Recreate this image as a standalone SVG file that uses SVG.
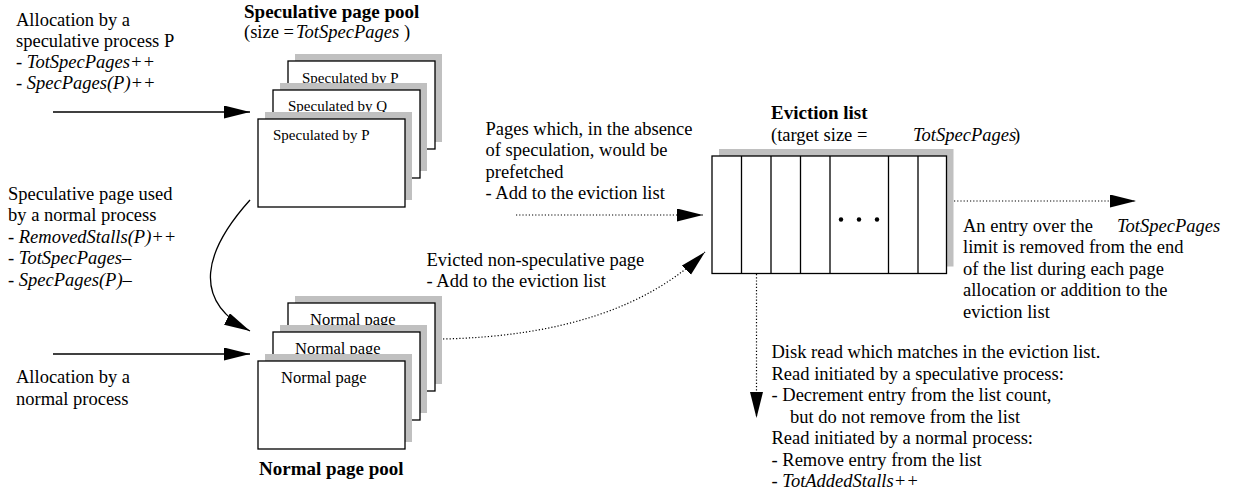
<svg xmlns="http://www.w3.org/2000/svg" width="1233" height="496" viewBox="0 0 1233 496">
<style>
text{font-family:"Liberation Serif","Times New Roman",serif;fill:#000}
.t{font-size:18.5px}
.c{font-size:15px}
.n{font-size:16.5px}
.b{font-size:19px;font-weight:bold}
.i{font-style:italic}
.card{fill:#fff;stroke:#000;stroke-width:1.3}
.sh{fill:#c0c0c0}
.ln{fill:none;stroke:#000;stroke-width:1.3}
.dot{fill:none;stroke:#000;stroke-width:1.2;stroke-dasharray:1.2 2}
</style>
<defs>
<marker id="ah" markerUnits="userSpaceOnUse" markerWidth="28" markerHeight="14" refX="26" refY="6.5" orient="auto">
<path d="M0,0 L26,6.5 L0,13 z" fill="#000"/>
</marker>
</defs>

<g id="spec-pool">
<text class="b" x="244" y="18">Speculative page pool</text>
<text class="t" x="244" y="38">(size = <tspan class="i" x="296">TotSpecPages</tspan><tspan x="404">)</tspan></text>
<rect class="sh" x="295" y="54" width="147" height="88"/>
<rect class="card" x="288" y="61" width="147" height="88"/>
<text class="c" x="302" y="83">Speculated by P</text>
<rect class="sh" x="280" y="83" width="147" height="88"/>
<rect class="card" x="273" y="90" width="147" height="88"/>
<text class="c" x="288" y="111">Speculated by Q</text>
<rect class="sh" x="265" y="112" width="147" height="88"/>
<rect class="card" x="258" y="119" width="147" height="88"/>
<text class="c" x="273" y="140">Speculated by P</text>
</g>

<g id="normal-pool">
<rect class="sh" x="295" y="296" width="147" height="88"/>
<rect class="card" x="288" y="303" width="147" height="88"/>
<text class="n" x="310" y="325">Normal page</text>
<rect class="sh" x="280" y="325" width="147" height="88"/>
<rect class="card" x="273" y="332" width="147" height="88"/>
<text class="n" x="295" y="354">Normal page</text>
<rect class="sh" x="265" y="354" width="147" height="88"/>
<rect class="card" x="258" y="361" width="147" height="88"/>
<text class="n" x="281" y="383">Normal page</text>
<text class="b" x="259" y="475">Normal page pool</text>
</g>

<g id="eviction-list">
<text class="b" x="771" y="119">Eviction list</text>
<text class="t" x="771" y="140.5">(target size = <tspan class="i" x="913">TotSpecPages</tspan><tspan x="1014">)</tspan></text>
<rect class="sh" x="719" y="149" width="234.5" height="117.5"/>
<rect class="card" x="712" y="156" width="234.5" height="117.5"/>
<path class="ln" d="M741.5,156V273.5M771,156V273.5M800.5,156V273.5M830,156V273.5M888.5,156V273.5M918,156V273.5"/>
<circle cx="841" cy="219.5" r="2.2"/>
<circle cx="859" cy="219.5" r="2.2"/>
<circle cx="877" cy="219.5" r="2.2"/>
</g>

<g id="labels">
<text class="t" x="16" y="25.5">Allocation by a</text>
<text class="t" x="16" y="46.5">speculative process P</text>
<text class="t" x="16" y="67.5">- <tspan class="i">TotSpecPages++</tspan></text>
<text class="t" x="16" y="88.5">- <tspan class="i">SpecPages(P)++</tspan></text>

<text class="t" x="8" y="199.5">Speculative page used</text>
<text class="t" x="8" y="221">by a normal process</text>
<text class="t" x="8" y="242.5">- <tspan class="i">RemovedStalls(P)++</tspan></text>
<text class="t" x="8" y="264">- <tspan class="i">TotSpecPages–</tspan></text>
<text class="t" x="8" y="285.5">- <tspan class="i">SpecPages(P)–</tspan></text>

<text class="t" x="16" y="383">Allocation by a</text>
<text class="t" x="16" y="404.5">normal process</text>

<text class="t" x="485.5" y="134.5">Pages which, in the absence</text>
<text class="t" x="485.5" y="156">of speculation, would be</text>
<text class="t" x="485.5" y="177.5">prefetched</text>
<text class="t" x="485.5" y="199">- Add to the eviction list</text>

<text class="t" x="426.5" y="266">Evicted non-speculative page</text>
<text class="t" x="426.5" y="287">- Add to the eviction list</text>

<text class="t" x="963" y="231.5">An entry over the <tspan class="i" x="1117">TotSpecPages</tspan></text>
<text class="t" x="963" y="253">limit is removed from the end</text>
<text class="t" x="963" y="274.5">of the list during each page</text>
<text class="t" x="963" y="296">allocation or addition to the</text>
<text class="t" x="963" y="317.5">eviction list</text>

<text class="t" x="771.5" y="358">Disk read which matches in the eviction list.</text>
<text class="t" x="771.5" y="379.5">Read initiated by a speculative process:</text>
<text class="t" x="771.5" y="401">- Decrement entry from the list count,</text>
<text class="t" x="790" y="422.5">but do not remove from the list</text>
<text class="t" x="771.5" y="444">Read initiated by a normal process:</text>
<text class="t" x="771.5" y="465.5">- Remove entry from the list</text>
<text class="t" x="771.5" y="487">- <tspan class="i">TotAddedStalls++</tspan></text>
</g>

<g id="connectors">
<path class="ln" d="M53,112H250" marker-end="url(#ah)"/>
<path class="ln" d="M53,354H250" marker-end="url(#ah)"/>
<path class="ln" d="M250,200C205,250 190,300 250,331" marker-end="url(#ah)"/>
<path class="dot" d="M516,215H703" marker-end="url(#ah)"/>
<path class="dot" d="M443,339Q620,335 705,252" marker-end="url(#ah)"/>
<path class="dot" d="M954,201H1136" marker-end="url(#ah)"/>
<path class="dot" d="M756.5,274V418" marker-end="url(#ah)"/>
</g>
</svg>
